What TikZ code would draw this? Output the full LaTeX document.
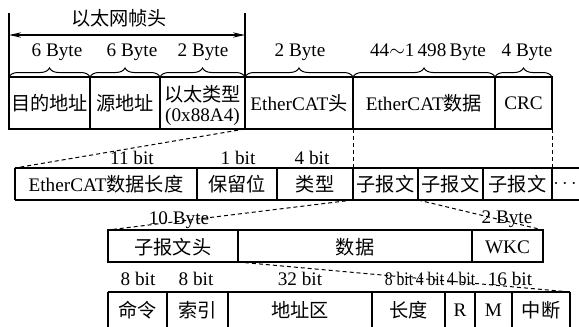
\documentclass[tikz,border=0pt]{standalone}
\usepackage{graphicx}
\usepackage{fontspec}
\setmainfont{Liberation Serif}
\newfontfamily\zhfont{Noto Sans CJK SC}
\newcommand{\zh}[1]{{\zhfont #1}}
\newcommand{\tight}[1]{\scalebox{0.82}[1]{#1}}
\usetikzlibrary{arrows.meta,decorations.pathreplacing}

\begin{document}
\begin{tikzpicture}[x=0.5pt,y=-0.5pt,
    every node/.style={font=\fontsize{9.6}{10}\selectfont, inner sep=1pt},
    line/.style={line width=0.6pt},
    link/.style={line width=0.5pt, dash pattern=on 2pt off 1.5pt},
    brc/.style={decorate, decoration={brace, amplitude=4.5pt}, line width=0.5pt}]
    \useasboundingbox (0,0) rectangle (579,327);
    \clip (0,0) rectangle (579,327);

    % Ethernet header span
    \foreach \x in {9,245}
        \draw [line] (\x,13) -- (\x,77);
    \draw [line, {Stealth[length=6pt,width=2.6pt]}-{Stealth[length=6pt,width=2.6pt]}] (9,35) -- (245,35);
    \node (hdr) at (119,18) {\zh{以太网帧头}};

    % frame row
    \draw [line] (9,77) rectangle (552,129);
    \foreach \x in {90,160,245,353,495}
        \draw [line] (\x,77) -- (\x,129);
    \foreach \a/\b in {9/90, 90/160, 160/245, 245/353, 353/495, 495/552}
        \draw [brc] (\a,77) -- (\b,77);
    \foreach \x/\t [count=\i] in {57/6 Byte, 132/6 Byte, 203/2 Byte, 300/2 Byte,
        428/{44$\sim$1\,498\,Byte}, 527/4 Byte}
        \node (fb\i) at (\x,52) {\t};
    \node (dst) at (49.5,103) {\zh{目的地址}};
    \node (src) at (125,103) {\zh{源地址}};
    \node (typ) at (202.5,105) [align=center] {\zh{以太类型}\\(0x88A4)};
    \node (ech) at (299,103) {EtherCAT\zh{头}};
    \node (ecd) at (424,103) {EtherCAT\zh{数据}};
    \node (crc) at (523.5,103) {CRC};

    % EtherCAT header / datagrams row
    \draw [line] (15,168) -- (579,168) (15,200) -- (579,200);
    \foreach \x in {15,197,277,353,418,483,552}
        \draw [line] (\x,168) -- (\x,200);
    \foreach \x/\t [count=\i] in {132/11 bit, 238/1 bit, 312/4 bit}
        \node (hb\i) at (\x,158) {\t};
    \node (len) at (106,184) {EtherCAT\zh{数据长度}};
    \node (res) at (237,184) {\zh{保留位}};
    \node (ety) at (315,184) {\zh{类型}};
    \foreach \x [count=\i] in {385.5,450.5,517.5}
        \node (sub\i) at (\x,184) {\zh{子报文}};
    \node (dots) at (565,184) {$\cdots$};

    % datagram row
    \draw [line] (108,230) rectangle (543,262);
    \foreach \x in {238,472}
        \draw [line] (\x,230) -- (\x,262);
    \node (db1) at (179,220) {10 Byte};
    \node (db2) at (507,219) {2 Byte};
    \node (dgh) at (173,247) {\zh{子报文头}};
    \node (dgd) at (355,247) {\zh{数据}};
    \node (wkc) at (507.5,247) {WKC};

    % datagram header row
    \draw [line] (108,292) -- (570,292);
    \foreach \x in {108,167,228,372,445,475,512,570}
        \draw [line] (\x,292) -- (\x,335);
    \foreach \x/\t [count=\i] in {138/8 bit, 196/8 bit, 300/32 bit}
        \node (gb\i) at (\x,279) {\t};
    \foreach \x/\t [count=\i] in {399/8 bit, 430/4 bit, 461/4 bit}
        \node (gn\i) at (\x,279) {\tight{\t}};
    \node (gb4) at (510,279) {16 bit};
    \foreach \x/\t [count=\i] in {137.5/命令, 197.5/索引, 300/地址区, 408.5/长度, 541/中断}
        \node (gf\i) at (\x,310) {\zh{\t}};
    \node (rr) at (460,310) {R};
    \node (mm) at (493.5,310) {M};

    % dashed links
    \coordinate (a1) at (245,129);
    \coordinate (a2) at (353,129);
    \coordinate (a3) at (552,129);
    \coordinate (b1) at (15,168);
    \coordinate (b2) at (353,168);
    \coordinate (b3) at (552,168);
    \coordinate (c1) at (353,200);
    \coordinate (c2) at (418,200);
    \coordinate (d1) at (108,230);
    \coordinate (d2) at (543,230);
    \coordinate (e1) at (238,262);
    \coordinate (f1) at (570,292);
    \draw [link] (a1) -- (b1);
    \draw [link] (a2) -- (b2);
    \draw [link] (a3) -- (b3);
    \draw [link] (c1) -- (d1);
    \draw [link] (c2) -- (d2);
    \draw [link] (e1) -- (f1);
\end{tikzpicture}
\end{document}
